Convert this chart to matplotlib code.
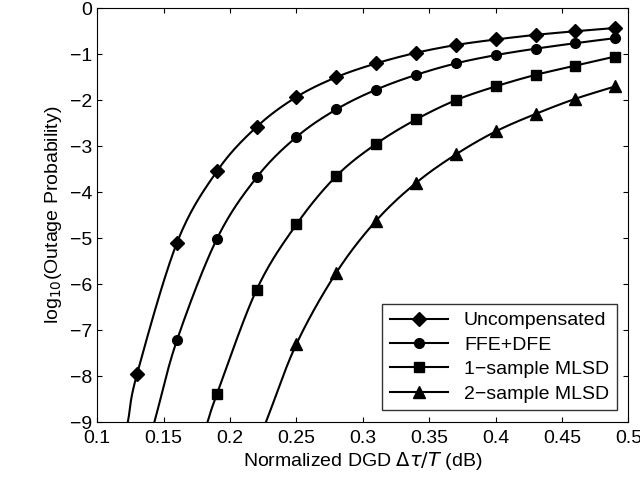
import numpy as np
import matplotlib
matplotlib.use("Agg")
from matplotlib import pyplot as plt

plt.rcParams['font.family'] = ['Liberation Sans', 'DejaVu Sans']
plt.rcParams['mathtext.fontset'] = 'dejavusans'

# curve start (where it leaves the bottom edge) + marker points
unc_x = [0.123, 0.13, 0.16, 0.19, 0.22, 0.25, 0.28, 0.31, 0.34, 0.37, 0.40, 0.43, 0.46, 0.49]
unc_y = [-9.0, -7.95, -5.1, -3.55, -2.58, -1.93, -1.5, -1.2, -0.97, -0.8, -0.68, -0.58, -0.5, -0.43]
ffe_x = [0.143, 0.16, 0.19, 0.22, 0.25, 0.28, 0.31, 0.34, 0.37, 0.40, 0.43, 0.46, 0.49]
ffe_y = [-9.0, -7.22, -5.02, -3.68, -2.8, -2.2, -1.77, -1.45, -1.2, -1.02, -0.88, -0.76, -0.65]
ml1_x = [0.183, 0.19, 0.22, 0.25, 0.28, 0.31, 0.34, 0.37, 0.40, 0.43, 0.46, 0.49]
ml1_y = [-9.0, -8.4, -6.12, -4.7, -3.65, -2.95, -2.42, -2.0, -1.7, -1.45, -1.25, -1.05]
ml2_x = [0.227, 0.25, 0.28, 0.31, 0.34, 0.37, 0.40, 0.43, 0.46, 0.49]
ml2_y = [-9.0, -7.3, -5.75, -4.62, -3.8, -3.18, -2.68, -2.3, -1.97, -1.7]

def smooth(x, y, n=30):
    # catmull-rom through the read points
    x = np.asarray(x); y = np.asarray(y)
    px = np.concatenate([[2*x[0]-x[1]], x, [2*x[-1]-x[-2]]])
    py = np.concatenate([[2*y[0]-y[1]], y, [2*y[-1]-y[-2]]])
    xs, ys = [], []
    t = np.linspace(0, 1, n)
    for i in range(1, len(px) - 2):
        for arr, out in ((px, xs), (py, ys)):
            p0, p1, p2, p3 = arr[i-1], arr[i], arr[i+1], arr[i+2]
            out.extend(0.5*((2*p1) + (-p0+p2)*t + (2*p0-5*p1+4*p2-p3)*t**2 + (-p0+3*p1-3*p2+p3)*t**3))
    return xs, ys

fig = plt.figure(figsize=(6.4, 4.84), dpi=100)
ax = fig.add_axes([0.152, 0.128, 0.83, 0.855])

series = [(unc_x, unc_y, 'D', 'Uncompensated', 7),
          (ffe_x, ffe_y, 'o', 'FFE+DFE', 7),
          (ml1_x, ml1_y, 's', '1\u2212sample MLSD', 7),
          (ml2_x, ml2_y, '^', '2\u2212sample MLSD', 8)]
for x, y, m, lab, ms in series:
    sx, sy = smooth(x, y)
    ax.plot(sx, sy, color='black', lw=1.5)
    ax.plot(x[1:], y[1:], m, color='black', ms=ms)
    ax.plot([], [], '-', marker=m, color='black', lw=1.5, ms=ms, label=lab)

ax.set_xlim(0.1, 0.5)
ax.set_ylim(-9, 0)
ax.set_xticks(np.arange(0.1, 0.51, 0.05))
ax.set_xticklabels(['0.1', '0.15', '0.2', '0.25', '0.3', '0.35', '0.4', '0.45', '0.5'])
ax.set_yticks(range(-9, 1))
ax.set_yticklabels(['\u2212%d' % -v if v < 0 else '0' for v in range(-9, 1)])
ax.tick_params(direction='in', labelsize=14, top=True, right=True)
ax.tick_params(axis='x', pad=6)
ax.set_xlabel(r'Normalized DGD $\Delta\tau/T$ (dB)', fontsize=14, labelpad=2)
ax.set_ylabel(r'log$_{10}$(Outage Probability)', fontsize=14)
leg = ax.legend(loc='lower right', fontsize=14, fancybox=False, edgecolor='black',
                borderaxespad=0.6, handlelength=3.0, labelspacing=0.35)
leg.get_frame().set_linewidth(1.0)
fig.savefig('out.png')
